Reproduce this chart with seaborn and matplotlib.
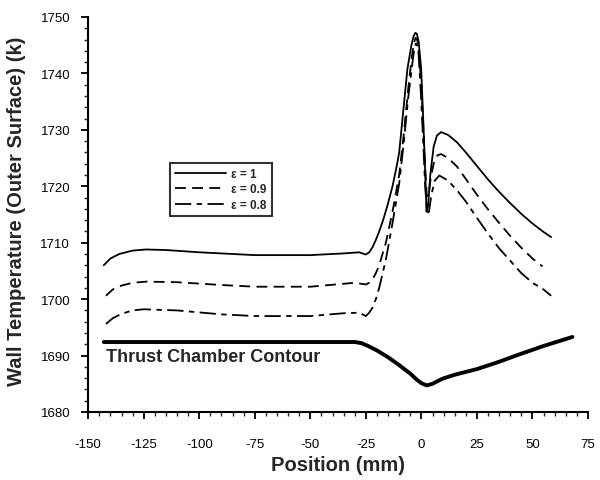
import matplotlib
matplotlib.use("Agg")
import matplotlib.pyplot as plt
from matplotlib.ticker import MultipleLocator
import numpy as np
import seaborn as sns

# position (mm) and wall temperature (K)
pos_e1 = [-143, -140, -136, -130, -124, -115, -100, -75, -50, -35, -28, -25, -23.5, -22, -20.5,
          -19, -17, -15, -13, -11, -10, -8.5, -6.3, -4.5, -3.5, -2.7, -2.0, -1.2, -0.1, 0.8,
          1.4, 2.3, 3.0, 4.0, 5.5, 7.0, 8.9, 12, 16, 20, 25, 30, 35, 40, 45, 50, 55, 58.4]
temp_e1 = [1706.0, 1707.2, 1708.0, 1708.6, 1708.8, 1708.7, 1708.3, 1707.8, 1707.8, 1708.1,
           1708.3, 1707.9, 1708.3, 1709.2, 1710.5, 1712.0, 1714.3, 1717.0, 1720.0, 1723.8,
           1726.0, 1732.0, 1740.8, 1745.0, 1746.6, 1747.2, 1747.0, 1745.5, 1740.8, 1732.0,
           1726.0, 1715.5, 1716.5, 1722.0, 1727.0, 1729.0, 1729.6, 1729.1, 1727.8, 1726.0,
           1723.6, 1721.2, 1719.0, 1717.0, 1715.1, 1713.4, 1711.9, 1711.0]

pos_e09 = [-142, -139, -135, -130, -124, -110, -90, -75, -50, -30, -25, -23.5, -22, -20.5,
           -19, -16, -13, -10, -8, -6, -4.3, -3.3, -2.6, -1.9, -1.3, -0.2, 0.8, 1.6, 2.4,
           3.2, 4.2, 5.8, 7.3, 8.9, 12, 16, 20, 25, 30, 35, 40, 45, 50, 54.5]
temp_e09 = [1700.6, 1701.7, 1702.4, 1702.9, 1703.1, 1703.0, 1702.5, 1702.2, 1702.2, 1702.9,
            1702.6, 1702.9, 1703.5, 1704.6, 1706.0, 1710.0, 1715.5, 1722.0, 1729.0, 1737.0,
            1743.0, 1745.5, 1746.3, 1746.0, 1744.5, 1739.0, 1731.0, 1724.0, 1718.5, 1718.2,
            1721.5, 1724.5, 1725.5, 1725.7, 1725.0, 1723.5, 1721.3, 1718.5, 1715.9, 1713.5,
            1711.2, 1709.1, 1707.2, 1705.8]

pos_e08 = [-142, -139, -135, -130, -125, -110, -90, -75, -50, -35, -28, -25, -23.5, -22,
           -20.5, -19, -16, -13, -10, -8, -6, -4, -3.2, -2.5, -1.9, -1.3, -0.3, 0.8, 1.7,
           2.6, 3.4, 4.5, 6.0, 8.1, 12, 16, 20, 25, 30, 35, 40, 45, 50, 55, 58.4]
temp_e08 = [1695.6, 1696.6, 1697.4, 1698.0, 1698.2, 1698.0, 1697.3, 1697.0, 1697.0, 1697.5,
            1697.6, 1697.0, 1697.6, 1698.5, 1700.0, 1702.0, 1707.0, 1713.5, 1720.5, 1727.5,
            1735.5, 1742.0, 1744.3, 1745.3, 1745.0, 1743.5, 1737.0, 1728.0, 1720.0, 1715.2,
            1715.5, 1718.5, 1721.0, 1721.9, 1721.0, 1719.3, 1717.3, 1714.4, 1711.6, 1709.0,
            1706.8, 1704.6, 1702.9, 1701.7, 1700.6]

pos_contour = [-143, -30, -27, -24, -20, -15, -10, -5, -2, 0, 2.5, 5, 9.5, 15, 25, 35, 42.6, 55, 68]
temp_contour = [1692.4, 1692.4, 1692.2, 1691.7, 1690.9, 1689.7, 1688.3, 1686.8, 1685.7, 1685.1,
                1684.7, 1685.0, 1685.9, 1686.6, 1687.6, 1688.9, 1690.0, 1691.7, 1693.3]

x_ticks = list(range(-150, 76, 25))

sns.set_style("ticks")
plt.rcParams['font.family'] = ['Liberation Sans', 'DejaVu Sans']

fig = plt.figure(figsize=(6, 4.81), dpi=100)
ax = fig.add_axes([0.147, 0.1414, 0.833, 0.8212])

sns.lineplot(x=pos_e1, y=temp_e1, ax=ax, color="black", lw=1.3, label="ε = 1", sort=False)
sns.lineplot(x=pos_e09, y=temp_e09, ax=ax, color="black", lw=1.3, label="ε = 0.9", sort=False,
             linestyle=(0, (6, 3.5)))
sns.lineplot(x=pos_e08, y=temp_e08, ax=ax, color="black", lw=1.3, label="ε = 0.8", sort=False,
             linestyle=(0, (9, 3, 3, 3)))
sns.lineplot(x=pos_contour, y=temp_contour, ax=ax, color="black", lw=2.8, sort=False, legend=False)

ax.text(-142, 1689.9, "Thrust Chamber Contour", fontsize=13, fontweight="bold", va="center")

ax.set_xlim(-150, 75)
ax.set_ylim(1680, 1750)
ax.set_xticks(x_ticks)
ax.set_xticklabels([str(v) for v in x_ticks])
ax.xaxis.set_minor_locator(MultipleLocator(5))
ax.yaxis.set_major_locator(MultipleLocator(10))
ax.yaxis.set_minor_locator(MultipleLocator(2))
ax.tick_params(which="major", direction="out", length=5, width=1.3, labelsize=9.5, colors="black")
ax.tick_params(which="minor", direction="out", length=3, width=1.0)
ax.tick_params(axis="x", which="major", pad=14)
ax.tick_params(axis="y", which="major", pad=8)

for s in ["left", "bottom"]:
    ax.spines[s].set_linewidth(1.5)
    ax.spines[s].set_color("black")
sns.despine(ax=ax)

ax.set_xlabel("Position (mm)", fontsize=14.5, fontweight="bold")
ax.set_ylabel("Wall Temperature (Outer Surface) (k)", fontsize=14.5, fontweight="bold")
ax.xaxis.set_label_coords(0.5, -0.11)
ax.yaxis.set_label_coords(-0.124, 0.51)

leg = ax.legend(loc="upper left", bbox_to_anchor=(0.152, 0.645), frameon=True,
                prop={"size": 8.5, "weight": "bold"},
                fancybox=False, edgecolor="black", handlelength=4.3, labelspacing=0.3,
                borderpad=0.4, handletextpad=0.5)
leg.get_frame().set_linewidth(1.5)

fig.savefig("out.png", dpi=100)
